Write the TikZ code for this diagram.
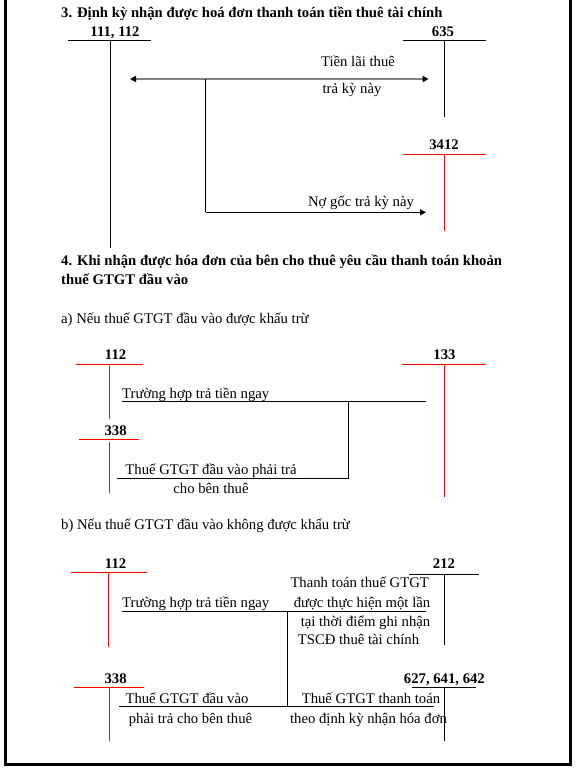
\documentclass[tikz,border=0pt]{standalone}
\usepackage{fontspec}
\setmainfont{Liberation Serif}
\usetikzlibrary{arrows.meta}
\begin{document}
\begin{tikzpicture}[x=1pt,y=-1pt,
  every node/.style={inner sep=0pt,font=\fontsize{14.7}{17}\selectfont},
  txt/.style={anchor=base},
  txtl/.style={anchor=base west},
  acc/.style={anchor=base,font=\fontsize{14.7}{17}\selectfont\bfseries},
  head/.style={anchor=base west,font=\fontsize{14.7}{17}\selectfont\bfseries},
  ln/.style={line width=0.9pt,black},
  rln/.style={line width=0.9pt,red},
  garrow/.style={line width=2pt,gray,{Triangle[length=6pt,width=6pt,color=black]}-{Triangle[length=6pt,width=6pt,color=black]}},
  barrow/.style={line width=0.9pt,black,-{Triangle[length=6pt,width=6pt]}},
  frame/.style={line width=3pt,black}]
\useasboundingbox (0,0) rectangle (575,770);
% frame
\coordinate (f1) at (5.5,0);
\coordinate (f2) at (5.5,764.5);
\coordinate (f3) at (570,764.5);
\coordinate (f4) at (570,0);
\draw[frame] (f1) -- (f2) -- (f3) -- (f4);

% ---------- Section 3 ----------
\node[head] (t3) at (61,18) {3. Định kỳ nhận được hoá đơn thanh toán tiền thuê tài chính};
\node[acc] (a111) at (115,36.5) {111, 112};
\coordinate (a111l) at (68,40.7); \coordinate (a111r) at (151,40.7);
\coordinate (a111t) at (110,40.7); \coordinate (a111b) at (110,248);
\draw[ln] (a111l) -- (a111r); \draw[ln] (a111t) -- (a111b);

\node[acc] (a635) at (443,36.5) {635};
\coordinate (a635l) at (402.6,40.7); \coordinate (a635r) at (486,40.7);
\coordinate (a635t) at (444.8,40.7); \coordinate (a635b) at (444.8,117);
\draw[ln] (a635l) -- (a635r); \draw[ln] (a635t) -- (a635b);

\coordinate (g1) at (130,79); \coordinate (g2) at (428.6,79);
\draw[garrow] (g1) -- (g2);
\coordinate (v1t) at (205.5,79); \coordinate (v1b) at (205.5,212.3);
\draw[ln] (v1t) -- (v1b);
\node[txt] (l1a) at (358,67) {Tiền lãi thuê};
\node[txt] (l1b) at (352,94) {trả kỳ này};

\node[acc] (a3412) at (444,149.5) {3412};
\coordinate (a3412l) at (402.6,154); \coordinate (a3412r) at (486,154);
\coordinate (a3412t) at (444.8,154); \coordinate (a3412b) at (444.8,230.7);
\draw[rln] (a3412l) -- (a3412r); \draw[rln] (a3412t) -- (a3412b);

\coordinate (b1) at (205.5,212.3); \coordinate (b2) at (426,212.3);
\draw[barrow] (b1) -- (b2);
\node[txt] (l2) at (361,206.5) {Nợ gốc trả kỳ này};

% ---------- Section 4 ----------
\node[head] (t4a) at (61,265.5) {4. Khi nhận được hóa đơn của bên cho thuê yêu cầu thanh toán khoản};
\node[head] (t4b) at (61,284.5) {thuế GTGT đầu vào};
\node[txtl] (sa) at (61,323.5) {a) Nếu thuế GTGT đầu vào được khấu trừ};

\node[acc] (a112a) at (115.6,359.5) {112};
\coordinate (a112al) at (76,364); \coordinate (a112ar) at (143,364);
\coordinate (a112at) at (109.4,364); \coordinate (a112ab) at (109.4,419.3);
\draw[rln] (a112al) -- (a112ar); \draw[rln] (a112at) -- (a112ab);

\node[acc] (a133) at (444.5,359.5) {133};
\coordinate (a133l) at (402,364); \coordinate (a133r) at (485.5,364);
\coordinate (a133t) at (444,364); \coordinate (a133b) at (444,496.7);
\draw[rln] (a133l) -- (a133r); \draw[rln] (a133t) -- (a133b);

\node[txtl] (l3) at (122,398.5) {Trường hợp trả tiền ngay};
\coordinate (h1l) at (122,401.7); \coordinate (h1r) at (426.4,401.7);
\draw[ln] (h1l) -- (h1r);
\coordinate (v2t) at (348.6,401.7); \coordinate (v2b) at (348.6,478.3);
\draw[ln] (v2t) -- (v2b);

\node[acc] (a338a) at (115.6,435.5) {338};
\coordinate (a338al) at (79,439.3); \coordinate (a338ar) at (138.7,439.3);
\coordinate (a338at) at (109.4,441.7); \coordinate (a338ab) at (109.4,493.3);
\draw[rln] (a338al) -- (a338ar); \draw[rln] (a338at) -- (a338ab);

\node[txt] (l4a) at (211,474.5) {Thuế GTGT đầu vào phải trả};
\coordinate (h2l) at (117.4,478.3);
\draw[ln] (h2l) -- (v2b);
\node[txt] (l4b) at (211,493) {cho bên thuê};

% b)
\node[txtl] (sb) at (61,529.5) {b) Nếu thuế GTGT đầu vào không được khấu trừ};

\node[acc] (a112b) at (115.6,568) {112};
\coordinate (a112bl) at (70.5,572.7); \coordinate (a112br) at (146.8,572.7);
\coordinate (a112bt) at (108.6,572.7); \coordinate (a112bb) at (108.6,646.7);
\draw[rln] (a112bl) -- (a112br); \draw[rln] (a112bt) -- (a112bb);

\node[acc] (a212) at (444,568) {212};
\coordinate (a212l) at (409,574); \coordinate (a212r) at (479,574);
\coordinate (a212t) at (444.8,574); \coordinate (a212b) at (444.8,645);
\draw[ln] (a212l) -- (a212r); \draw[ln] (a212t) -- (a212b);

\node[txt] (l5a) at (359.7,587.5) {Thanh toán thuế GTGT};
\node[txtl] (l5) at (122,607.5) {Trường hợp trả tiền ngay};
\node[txt] (l5b) at (362,607.5) {được thực hiện một lần};
\coordinate (h3l) at (122,611); \coordinate (h3r) at (425.7,611);
\draw[ln] (h3l) -- (h3r);
\coordinate (v3t) at (287,611); \coordinate (v3b) at (287,706);
\draw[ln] (v3t) -- (v3b);
\node[txt] (l5c) at (365.5,626.5) {tại thời điểm ghi nhận};
\node[txt] (l5d) at (358.5,644) {TSCĐ thuê tài chính};

\node[acc] (a338b) at (115.6,683) {338};
\coordinate (a338bl) at (74,687.3); \coordinate (a338br) at (143.9,687.3);
\coordinate (a338bt) at (109.4,687.3); \coordinate (a338bb) at (109.4,741);
\draw[rln] (a338bl) -- (a338br); \draw[rln] (a338bt) -- (a338bb);

\node[acc] (a627) at (444.4,683) {627, 641, 642};
\coordinate (a627l) at (411.7,687.3); \coordinate (a627r) at (476.3,687.3);
\coordinate (a627t) at (444,687.3); \coordinate (a627b) at (444,741);
\draw[ln] (a627l) -- (a627r); \draw[ln] (a627t) -- (a627b);

\node[txt] (l6a) at (187,703) {Thuế GTGT đầu vào};
\node[txt] (l6b) at (371,703) {Thuế GTGT thanh toán};
\coordinate (h4l) at (119,706); \coordinate (h4r) at (434,706);
\draw[ln] (h4l) -- (h4r);
\node[txt] (l6c) at (190.5,723) {phải trả cho bên thuê};
\node[txt] (l6d) at (368.5,723) {theo định kỳ nhận hóa đơn};
\end{tikzpicture}
\end{document}
